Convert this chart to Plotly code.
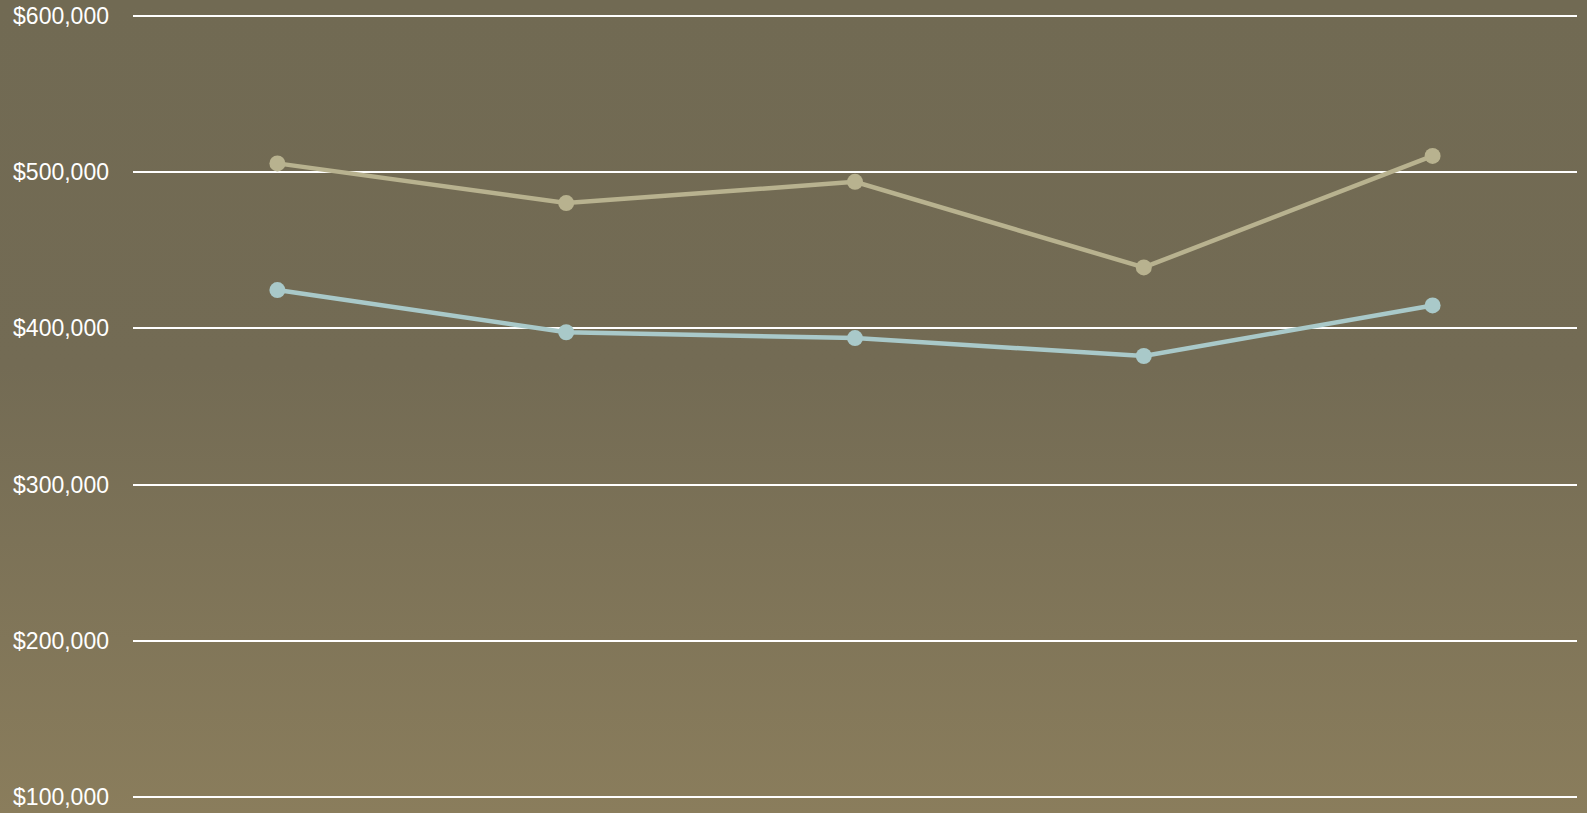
import base64
import plotly.graph_objects as go

categories = ["1", "2", "3", "4", "5"]
series_a = [505600, 480200, 493800, 439000, 510400]
series_b = [424500, 397500, 393800, 382300, 414700]
tick_vals = [100000, 200000, 300000, 400000, 500000, 600000]
tick_text = ["$100,000", "$200,000", "$300,000", "$400,000", "$500,000", "$600,000"]

W, H = 1587, 813
ML, MR, MT, MB = 133, 10, 14, 14
pw = W - ML - MR
ph = H - MT - MB

svg = (
    '<svg xmlns="http://www.w3.org/2000/svg" width="100" height="100" preserveAspectRatio="none" viewBox="0 0 100 100">'
    '<defs><linearGradient id="g" x1="0" y1="0" x2="0" y2="1">'
    '<stop offset="0" stop-color="#716a53"/>'
    '<stop offset="0.45" stop-color="#736b54"/>'
    '<stop offset="1" stop-color="#8a7d5c"/>'
    '</linearGradient></defs>'
    '<rect x="0" y="0" width="100" height="100" fill="url(#g)"/></svg>'
)
src = "data:image/svg+xml;base64," + base64.b64encode(svg.encode()).decode()

fig = go.Figure()
fig.add_trace(go.Scatter(
    x=categories, y=series_a, mode="lines+markers",
    line=dict(color="#b8b28f", width=4.5),
    marker=dict(color="#b8b28f", size=16),
    showlegend=False, hoverinfo="skip",
))
fig.add_trace(go.Scatter(
    x=categories, y=series_b, mode="lines+markers",
    line=dict(color="#a9c9c9", width=4.5),
    marker=dict(color="#a9c9c9", size=16),
    showlegend=False, hoverinfo="skip",
))

fig.add_layout_image(dict(
    source=src, xref="paper", yref="paper",
    x=-ML / pw, y=1 + MT / ph,
    sizex=W / pw, sizey=H / ph,
    xanchor="left", yanchor="top",
    sizing="stretch", layer="below",
))

fig.update_layout(
    width=W, height=H,
    margin=dict(l=ML, r=MR, t=MT, b=MB, pad=0, autoexpand=False),
    paper_bgcolor="#716a53",
    plot_bgcolor="rgba(0,0,0,0)",
    font=dict(family="Liberation Sans, Arial, sans-serif", color="#ffffff", size=23),
    xaxis=dict(type="category", range=[-0.5, 4.5], showgrid=False, showticklabels=False,
               zeroline=False, showline=False, ticks="", automargin=False),
    yaxis=dict(range=[98800, 601200], tickvals=tick_vals, ticktext=tick_text,
               showgrid=True, gridcolor="#ffffff", gridwidth=2, zeroline=False,
               showline=False, ticks="", ticklabelstandoff=23, automargin=False,
               tickfont=dict(size=23, color="#ffffff")),
)

fig.write_html("out.html", config={"displayModeBar": False},
               post_script="document.body.style.margin='0';document.body.style.overflow='hidden';")
